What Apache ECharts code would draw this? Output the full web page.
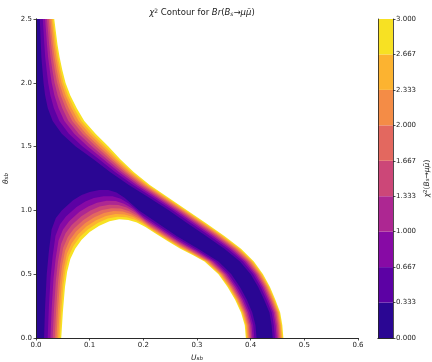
<!DOCTYPE html>
<html>
<head>
<meta charset="utf-8">
<script src="https://cdn.jsdelivr.net/npm/echarts@6/dist/echarts.min.js"></script>
<style>
    html, body { margin: 0; padding: 0; background: #fff; }
    #chart { width: 432px; height: 362px; }
</style>
</head>
<body>
<div id="chart"></div>
<script>
    // θ_sb rows used for the upper-right band edges
    const thetaRows = [0, 0.1, 0.2, 0.3, 0.4, 0.5, 0.6, 0.7, 0.8, 0.9, 1.0, 1.1, 1.2,
        1.3, 1.4, 1.5, 1.6, 1.7, 1.8, 1.9, 2.0, 2.1, 2.2, 2.3, 2.4, 2.5];
    // U_sb where chi2 = 3 (outer yellow edge) on the upper-right side
    const outerYellowU = [0.461, 0.459, 0.455, 0.446, 0.436, 0.423, 0.406, 0.382, 0.351, 0.317,
        0.282, 0.247, 0.212, 0.182, 0.157, 0.135, 0.111, 0.090, 0.076, 0.064, 0.055, 0.049,
        0.044, 0.040, 0.037, 0.034];
    // U_sb where chi2 = 0.333 (edge of dark core) on the upper-right side
    const outerDarkU = [0.441, 0.439, 0.435, 0.425, 0.414, 0.400, 0.380, 0.351, 0.317, 0.282,
        0.248, 0.211, 0.173, 0.138, 0.107, 0.074, 0.048, 0.031, 0.022, 0.017, 0.014, 0.012,
        0.010, 0.009, 0.008, 0.007];
    // inner lobe (white hole), chi2 = 0.333 edge, left foot -> right foot
    const holeDarkU = [0.015, 0.017, 0.020, 0.024, 0.029, 0.037, 0.048, 0.069, 0.085, 0.100,
        0.118, 0.135, 0.150, 0.165, 0.192, 0.227, 0.262, 0.302, 0.340, 0.364, 0.380, 0.393,
        0.403, 0.409, 0.411];
    const holeDarkTheta = [0, 0.25, 0.5, 0.68, 0.85, 0.94, 1.0, 1.08, 1.12, 1.145, 1.16, 1.16,
        1.14, 1.10, 1.0, 0.9, 0.8, 0.7, 0.6, 0.5, 0.4, 0.3, 0.2, 0.1, 0];
    // inner lobe, chi2 = 3 edge
    const holeYellowU = [0.047, 0.050, 0.054, 0.058, 0.064, 0.073, 0.085, 0.100, 0.118, 0.137,
        0.155, 0.172, 0.188, 0.204, 0.222, 0.245, 0.269, 0.292, 0.314, 0.340, 0.357, 0.371,
        0.382, 0.389, 0.391];
    const holeYellowTheta = [0, 0.2, 0.4, 0.52, 0.62, 0.70, 0.77, 0.83, 0.88, 0.915, 0.93,
        0.925, 0.905, 0.87, 0.82, 0.76, 0.70, 0.65, 0.60, 0.5, 0.4, 0.3, 0.2, 0.1, 0];
    // relative place of each level edge between the dark edge (0) and the yellow edge (1)
    const edgeT = [0, 0.21, 0.37, 0.5, 0.62, 0.72, 0.82, 0.91, 1];
    // filled contour colours, chi2 from 0 to 3 in steps of 1/3
    const bandColors = ['#2a0693', '#5c01a4', '#870aa5', '#ad2792', '#cc4778',
        '#e3685f', '#f48c46', '#fcb330', '#f7e123'];
    const colorbarLabels = ['0.000', '0.333', '0.667', '1.000', '1.333', '1.667',
        '2.000', '2.333', '2.667', '3.000'];

    const uMax = 0.6;
    const thetaMax = 2.5;
    const ink = '#222';
    const font = 'DejaVu Sans';

    // above the k-th edge the next band colour (white beyond chi2 = 3)
    const fillColors = bandColors.slice(1).concat(['#ffffff']);

    let chart = echarts.init(document.getElementById('chart'), null, {renderer: 'canvas'});

    function richSet(size, small) {
        return {
            n: {fontFamily: font, fontSize: size, color: ink, fontWeight: 'normal'},
            i: {fontFamily: font, fontSize: size, color: ink, fontWeight: 'normal', fontStyle: 'italic'},
            sup: {fontFamily: font, fontSize: small, color: ink, fontWeight: 'normal', verticalAlign: 'top'},
            sub: {fontFamily: font, fontSize: small, color: ink, fontWeight: 'normal',
                fontStyle: 'italic', verticalAlign: 'bottom'}
        };
    }

    const plotAxisLabel = function (digits) {
        return {fontFamily: font, fontSize: 7, color: ink, margin: 4,
            formatter: function (v) { return v.toFixed(digits); }};
    };
    const spine = {show: true, lineStyle: {color: ink, width: 0.8}};
    const tick = {show: true, length: 2.5, lineStyle: {color: ink, width: 0.8}};

    let option = {
        animation: false,
        title: {
            text: '{i|χ}{sup|2}{n| Contour for }{i|Br}{n|(}{i|B}{sub|s}{i|→μμ̄}{n|)}',
            left: 197,
            top: 3,
            textAlign: 'center',
            textStyle: {fontFamily: font, fontSize: 8.5, fontWeight: 'normal', color: ink,
                rich: richSet(8.5, 6)}
        },
        grid: [
            {left: 36, right: 74, top: 19, bottom: 24, show: true, containLabel: false,
                outerBoundsMode: 'none', backgroundColor: bandColors[0], borderWidth: 0},
            {left: 378, width: 15, top: 19, bottom: 24, containLabel: false,
                outerBoundsMode: 'none'}
        ],
        xAxis: [
            {gridIndex: 0, type: 'value', min: 0, max: uMax, interval: 0.1, z: 5,
                axisLine: spine, axisTick: tick, axisLabel: plotAxisLabel(1),
                splitLine: {show: false},
                name: '{i|U}{sub|sb}', nameLocation: 'middle', nameGap: 14,
                nameTextStyle: {rich: richSet(7.5, 5.5)}},
            {gridIndex: 0, type: 'value', min: 0, max: uMax, position: 'top', z: 5,
                axisLine: spine, axisTick: {show: false}, axisLabel: {show: false},
                splitLine: {show: false}},
            {gridIndex: 1, type: 'category', data: ['cb'], position: 'bottom', z: 5,
                axisLine: spine, axisTick: {show: false}, axisLabel: {show: false}},
            {gridIndex: 1, type: 'category', data: ['cb'], position: 'top', z: 5,
                axisLine: spine, axisTick: {show: false}, axisLabel: {show: false}}
        ],
        yAxis: [
            {gridIndex: 0, type: 'value', min: 0, max: thetaMax, interval: 0.5, z: 5,
                axisLine: spine, axisTick: tick, axisLabel: plotAxisLabel(1),
                splitLine: {show: false},
                name: '{i|θ}{sub|sb}', nameLocation: 'middle', nameGap: 22, nameRotate: 90,
                nameTextStyle: {rich: richSet(7.5, 5.5)}},
            {gridIndex: 0, type: 'value', min: 0, max: thetaMax, position: 'right', z: 5,
                axisLine: spine, axisTick: {show: false}, axisLabel: {show: false},
                splitLine: {show: false}},
            {gridIndex: 1, type: 'value', min: 0, max: 9, interval: 1, position: 'right', z: 5,
                axisLine: spine, axisTick: tick,
                axisLabel: {fontFamily: font, fontSize: 7, color: ink, margin: 3,
                    formatter: function (v) { return colorbarLabels[v]; }},
                splitLine: {show: false},
                name: '{i|χ}{sup|2}{n|(}{i|B}{sub|s}{i|→μμ̄}{n|)}', nameLocation: 'middle',
                nameGap: 30, nameRotate: 90, nameTextStyle: {rich: richSet(7.5, 5.5)}},
            {gridIndex: 1, type: 'value', min: 0, max: 9, position: 'left', z: 5,
                axisLine: spine, axisTick: {show: false}, axisLabel: {show: false},
                splitLine: {show: false}}
        ],
        series: [
            {
                type: 'custom',
                xAxisIndex: 0,
                yAxisIndex: 0,
                z: 1,
                clip: true,
                silent: true,
                data: edgeT.map(function () { return [0, 0]; }),
                renderItem: function (params, api) {
                    const k = params.dataIndex;
                    const t = edgeT[k];
                    let outer = thetaRows.map(function (th, i) {
                        return api.coord([outerDarkU[i] + (outerYellowU[i] - outerDarkU[i]) * t, th]);
                    });
                    outer.push(api.coord([uMax, thetaMax]), api.coord([uMax, 0]));
                    let hole = holeDarkU.map(function (u, i) {
                        return api.coord([
                            u + (holeYellowU[i] - u) * t,
                            holeDarkTheta[i] + (holeYellowTheta[i] - holeDarkTheta[i]) * t
                        ]);
                    });
                    return {
                        type: 'group',
                        children: [
                            {type: 'polygon', shape: {points: outer}, style: {fill: fillColors[k]}},
                            {type: 'polygon', shape: {points: hole}, style: {fill: fillColors[k]}}
                        ]
                    };
                }
            }
        ].concat(bandColors.map(function (c) {
            // colour bar: one block for every chi2 band
            return {
                type: 'bar',
                xAxisIndex: 2,
                yAxisIndex: 2,
                stack: 'cb',
                barWidth: '100%',
                silent: true,
                itemStyle: {color: c},
                data: [1]
            };
        }))
    };
    chart.setOption(option);
</script>
</body>
</html>
